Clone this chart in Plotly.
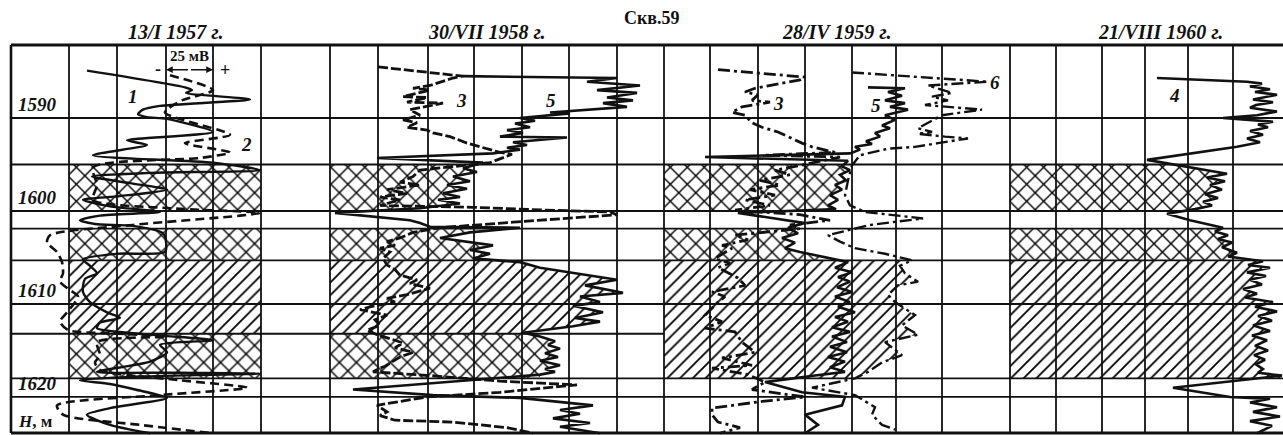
import plotly.graph_objects as go

INK = "#111111"
SERIF = "Liberation Serif, Times New Roman, serif"

# ---------------------------------------------------------------- strip grid
col_edges = [11, 69, 117, 166, 213, 261, 330, 378, 428, 474, 522, 569, 617,
             664, 710, 758, 805, 852, 896, 942, 1010, 1056, 1102, 1145, 1188, 1233]
strip_left, strip_right = 11, 1283
depth_top, depth_bottom = 1582.15, 1623.87
row_depths = [1590, 1595, 1600, 1601.9, 1605.3, 1610, 1618, 1620]
short_row_depth, short_row_end = 1613.2, 664

depth_ticks = [1590, 1600, 1610, 1620]
depth_unit = "H, м"
well_name = "Скв.59"
panel_titles = ["13/I 1957 г.", "30/VII 1958 г.", "28/IV 1959 г.", "21/VIII 1960 г."]
panel_title_x = [175, 487, 836, 1160]

# ------------------------------------------------------------- log curves
# 13/I 1957: curve 1 (solid) and curve 2 (dashed)
p1_c1_x = [87, 185, 192, 186, 250, 160, 143, 138, 147, 167, 213, 127, 147, 93, 213, 260, 150, 92,
           130, 167, 120, 83, 110, 160, 100, 80, 95, 133, 163, 166, 165, 117, 83, 90, 97, 85, 83,
           90, 107, 120, 100, 97, 150, 213, 160, 167, 150, 97, 180, 260, 140, 80, 110, 135, 167,
           110, 87, 110, 150]
p1_c1_d = [1584.9, 1586.7, 1587.0, 1587.3, 1588.0, 1588.7, 1589.1, 1589.6, 1589.9, 1590.1, 1591.5,
           1592.4, 1592.9, 1594.0, 1594.8, 1595.6, 1595.9, 1596.3, 1597.0, 1597.7, 1598.4, 1598.8,
           1599.5, 1600.1, 1600.5, 1601.0, 1601.4, 1601.6, 1602.4, 1603.3, 1604.4, 1604.6, 1605.2,
           1605.9, 1606.7, 1607.3, 1608.7, 1609.8, 1610.9, 1611.5, 1612.0, 1612.6, 1613.3, 1613.9,
           1614.4, 1615.2, 1616.2, 1617.3, 1617.4, 1617.5, 1617.8, 1618.2, 1618.6, 1619.2, 1620.1,
           1621.2, 1621.9, 1623.0, 1623.9]
p1_c2_x = [170, 213, 182, 165, 230, 185, 230, 200, 93, 97, 93, 170, 260, 240, 133, 50, 47, 57, 62,
           63, 60, 70, 78, 67, 60, 68, 120, 167, 97, 100, 95, 100, 180, 247, 160, 57, 63, 140, 213]
p1_c2_d = [1585.4, 1587.0, 1588.1, 1589.4, 1591.8, 1592.7, 1593.7, 1594.3, 1595.3, 1597.2, 1598.8,
           1599.7, 1600.2, 1600.5, 1601.5, 1602.6, 1603.4, 1604.4, 1605.5, 1606.7, 1607.6, 1608.5,
           1609.2, 1610.9, 1611.9, 1612.8, 1613.2, 1613.5, 1614.1, 1615.5, 1616.3, 1617.1, 1618.2,
           1619.0, 1619.8, 1620.9, 1621.9, 1623.0, 1623.9]

# 30/VII 1958: curve 3 (dashed) and curve 5 (solid)
p2_c3_x = [378, 463, 453, 430, 413, 430, 403, 427, 407, 443, 410, 420, 403, 417, 407, 427, 433, 450,
           467, 480, 500, 512, 490, 420, 413, 400, 420, 387, 407, 380, 400, 380, 473, 545, 610, 617,
           560, 513, 440, 413, 400, 387, 395, 380, 390, 383, 387, 395, 400, 417, 410, 430, 407, 387,
           395, 370, 360, 387, 375, 380, 367, 377, 395, 403, 395, 413, 400, 393, 385, 380, 373, 430,
           500, 577, 500, 427, 377, 387, 380, 395, 453, 507, 533]
p2_c3_d = [1584.5, 1585.5, 1585.7, 1586.5, 1586.8, 1587.0, 1587.7, 1587.8, 1588.3, 1588.4, 1589.1,
           1589.7, 1590.2, 1590.5, 1591.0, 1591.3, 1591.6, 1592.0, 1592.7, 1593.1, 1593.7, 1593.9,
           1594.8, 1595.6, 1596.3, 1596.9, 1597.2, 1597.7, 1598.1, 1598.5, 1598.8, 1599.4, 1599.6,
           1599.9, 1600.1, 1600.4, 1600.8, 1601.2, 1601.8, 1602.3, 1602.9, 1603.3, 1603.7, 1604.0,
           1604.4, 1605.1, 1605.8, 1606.3, 1606.9, 1607.4, 1607.8, 1608.3, 1609.0, 1609.4, 1609.8,
           1610.3, 1610.6, 1611.2, 1611.7, 1612.3, 1612.8, 1613.3, 1613.9, 1614.2, 1614.7, 1615.2,
           1615.7, 1616.2, 1616.7, 1616.9, 1617.3, 1617.7, 1618.3, 1618.7, 1619.5, 1620.0, 1620.9,
           1621.6, 1622.0, 1622.5, 1622.7, 1623.3, 1623.9]
p2_c5_x = [463, 617, 587, 640, 597, 637, 607, 633, 603, 627, 550, 570, 520, 535, 515, 530, 507, 523,
           500, 567, 513, 527, 507, 520, 493, 377, 483, 463, 477, 453, 470, 447, 467, 443, 460, 438,
           460, 420, 335, 353, 410, 420, 430, 520, 470, 440, 493, 470, 490, 473, 520, 540, 617, 585,
           623, 580, 600, 573, 603, 575, 600, 573, 523, 540, 555, 548, 560, 545, 558, 540, 560, 545,
           555, 540, 353, 433, 520, 593, 560, 580, 553, 590, 560, 600]
p2_c5_d = [1585.5, 1585.7, 1586.1, 1586.5, 1587.0, 1587.3, 1587.8, 1588.1, 1588.4, 1588.8, 1589.4,
           1589.5, 1590.0, 1590.3, 1590.6, 1591.0, 1591.3, 1591.6, 1592.0, 1592.1, 1592.6, 1592.9,
           1593.2, 1593.4, 1593.8, 1594.3, 1594.8, 1595.4, 1595.8, 1596.3, 1596.8, 1597.2, 1597.6,
           1598.1, 1598.5, 1598.8, 1599.2, 1599.7, 1600.2, 1600.4, 1601.0, 1601.3, 1601.7, 1601.8,
           1602.3, 1602.9, 1603.7, 1604.2, 1604.6, 1605.1, 1605.5, 1606.1, 1607.4, 1608.0, 1608.8,
           1609.2, 1609.8, 1610.2, 1610.9, 1611.5, 1611.9, 1612.4, 1613.1, 1613.5, 1614.0, 1614.4,
           1614.8, 1615.3, 1615.7, 1616.1, 1616.6, 1617.0, 1617.3, 1617.6, 1619.2, 1619.8, 1620.1,
           1620.9, 1621.4, 1621.8, 1622.3, 1622.8, 1623.2, 1623.9]

# 28/IV 1959: curve 3 (dash-dot), curve 5 (solid), curve 6 (dash-dot)
p3_c3_x = [718, 805, 800, 755, 745, 758, 752, 770, 742, 732, 745, 752, 762, 778, 788, 802, 812, 835,
           765, 840, 800, 775, 790, 760, 780, 750, 775, 745, 770, 735, 800, 830, 790, 800, 735, 748,
           722, 732, 715, 730, 718, 738, 745, 712, 725, 718, 705, 722, 705, 735, 742, 755, 722, 752,
           712, 748, 765, 752, 805, 760, 712, 712, 718, 740, 720]
p3_c3_d = [1584.8, 1585.6, 1585.9, 1586.8, 1587.2, 1587.5, 1588.1, 1588.3, 1588.8, 1589.4, 1589.7,
           1590.5, 1591.0, 1591.5, 1592.0, 1592.7, 1593.1, 1593.7, 1594.0, 1594.2, 1595.1, 1595.6,
           1596.1, 1596.7, 1597.2, 1597.7, 1598.3, 1598.8, 1599.4, 1599.9, 1600.4, 1601.0, 1601.5,
           1601.9, 1602.6, 1603.1, 1603.7, 1604.0, 1605.1, 1605.6, 1606.1, 1607.2, 1608.0, 1608.7,
           1609.2, 1609.8, 1611.2, 1611.9, 1612.6, 1613.0, 1614.1, 1615.2, 1615.8, 1616.6, 1616.9,
           1617.6, 1618.4, 1619.2, 1620.0, 1620.5, 1621.2, 1621.9, 1622.7, 1623.3, 1623.9]
p3_c5_x = [868, 905, 888, 902, 885, 905, 890, 908, 885, 895, 882, 890, 875, 880, 866, 872, 855, 860,
           850, 705, 848, 842, 850, 840, 846, 835, 842, 830, 838, 828, 836, 738, 805, 788, 798, 782,
           795, 785, 800, 822, 848, 835, 852, 838, 850, 837, 852, 835, 850, 838, 855, 835, 848, 832,
           850, 832, 847, 830, 847, 828, 845, 830, 845, 815, 765, 802, 845, 842, 805, 818, 805]
p3_c5_d = [1586.7, 1586.8, 1587.2, 1587.6, 1588.1, 1588.4, 1588.8, 1589.1, 1589.7, 1590.2, 1590.8,
           1591.1, 1591.6, 1592.0, 1592.5, 1592.8, 1593.1, 1593.4, 1593.8, 1594.2, 1594.6, 1595.2,
           1595.6, 1596.1, 1596.7, 1597.2, 1597.7, 1598.3, 1598.8, 1599.4, 1599.8, 1600.2, 1601.3,
           1601.8, 1602.4, 1602.9, 1603.4, 1604.0, 1604.4, 1604.9, 1605.5, 1606.1, 1606.6, 1607.1,
           1607.6, 1608.2, 1608.7, 1609.2, 1609.8, 1610.3, 1610.9, 1611.4, 1611.9, 1612.5, 1613.0,
           1613.5, 1614.1, 1614.6, 1615.2, 1615.7, 1616.2, 1616.8, 1617.3, 1617.7, 1618.4, 1619.5,
           1620.0, 1620.9, 1621.9, 1623.0, 1623.9]
p3_c6_x = [852, 988, 928, 952, 932, 948, 925, 982, 942, 918, 932, 918, 945, 968, 938, 915, 888, 860,
           852, 848, 845, 850, 865, 923, 870, 828, 840, 855, 885, 912, 900, 905, 918, 898, 888, 895,
           915, 902, 918, 885, 902, 882, 868, 855, 812, 855, 875, 872, 882, 895]
p3_c6_d = [1585.1, 1586.1, 1586.5, 1587.3, 1587.7, 1588.1, 1588.6, 1589.1, 1589.7, 1591.1, 1591.5,
           1591.7, 1592.0, 1592.2, 1592.7, 1593.1, 1593.3, 1594.0, 1595.1, 1596.7, 1598.3, 1599.4,
           1600.1, 1600.8, 1601.5, 1602.6, 1603.3, 1604.0, 1604.6, 1605.3, 1605.9, 1606.7, 1607.6,
           1608.0, 1609.0, 1609.8, 1611.2, 1612.3, 1613.3, 1614.1, 1615.5, 1616.3, 1617.3, 1618.0,
           1619.0, 1619.8, 1621.1, 1621.9, 1623.0, 1623.5]

# 21/VIII 1960: curve 4 (solid)
p4_c4_x = [1157, 1247, 1262, 1250, 1270, 1255, 1277, 1253, 1273, 1256, 1250, 1277, 1257, 1223, 1273,
           1258, 1268, 1250, 1263, 1247, 1260, 1237, 1147, 1190, 1227, 1207, 1225, 1210, 1222, 1205,
           1218, 1203, 1212, 1195, 1167, 1190, 1223, 1215, 1228, 1218, 1232, 1222, 1237, 1228, 1263,
           1248, 1270, 1247, 1266, 1250, 1262, 1243, 1257, 1245, 1273, 1255, 1277, 1258, 1272, 1253,
           1270, 1252, 1267, 1255, 1268, 1254, 1265, 1256, 1263, 1258, 1282, 1173, 1230, 1270, 1250,
           1277, 1253, 1280, 1250, 1272, 1257]
p4_c4_d = [1585.7, 1586.1, 1586.3, 1586.6, 1586.9, 1587.2, 1587.5, 1588.0, 1588.3, 1588.6, 1588.9,
           1589.3, 1589.7, 1590.0, 1590.4, 1590.7, 1591.0, 1591.4, 1591.8, 1592.2, 1592.6, 1593.1,
           1594.5, 1595.3, 1596.0, 1596.4, 1596.8, 1597.2, 1597.7, 1598.2, 1598.6, 1599.0, 1599.4,
           1599.8, 1600.3, 1601.0, 1601.8, 1602.2, 1602.6, 1603.0, 1603.4, 1603.9, 1604.5, 1604.9,
           1605.4, 1605.8, 1606.1, 1606.6, 1607.0, 1607.4, 1607.9, 1608.4, 1608.9, 1609.3, 1609.8,
           1610.3, 1610.8, 1611.3, 1611.8, 1612.3, 1612.9, 1613.4, 1613.9, 1614.5, 1615.0, 1615.5,
           1616.0, 1616.5, 1617.0, 1617.4, 1617.7, 1619.0, 1620.0, 1620.2, 1620.6, 1621.1, 1621.6,
           1622.1, 1622.6, 1623.1, 1623.9]

# ------------------------------------------------------------ reservoir beds
# (pattern, top depth, bottom depth); "x" = cross-hatched, "/" = hatched
beds_a = [("x", 1595, 1600), ("x", 1601.9, 1605.3), ("/", 1605.3, 1613.2), ("x", 1613.2, 1618)]
beds_b = [("x", 1595, 1600), ("x", 1601.9, 1605.3), ("/", 1605.3, 1618)]
p1_bed_edges = (69, 261)

fig = go.Figure()


def bed_polygon(left, top, bottom, cx=None, cd=None, right=None):
    if cx is None:
        return [left, right, right, left, left], [top, top, bottom, bottom, top]
    pts = [(x, d) for x, d in zip(cx, cd) if top - 1e-6 <= d <= bottom + 1e-6]
    xs = [left, pts[0][0]] + [p[0] for p in pts] + [pts[-1][0], left, left]
    ds = [top, top] + [p[1] for p in pts] + [bottom, bottom, top]
    return xs, ds


def add_bed(pattern, xs, ds):
    fig.add_trace(go.Scatter(
        x=xs, y=ds, mode="lines", fill="toself", fillcolor="white",
        line=dict(width=0), hoverinfo="skip", showlegend=False,
        fillpattern=dict(shape=pattern, size=12 if pattern == "x" else 9,
                         solidity=0.22 if pattern == "x" else 0.2,
                         fgcolor="#000000", bgcolor="white", fillmode="replace"),
    ))


for pat, top, bot in beds_a:
    add_bed(pat, *bed_polygon(p1_bed_edges[0], top, bot, right=p1_bed_edges[1]))
for pat, top, bot in beds_a:
    add_bed(pat, *bed_polygon(col_edges[6], top, bot, p2_c5_x, p2_c5_d))
for pat, top, bot in beds_b:
    cx, cd = (p3_c6_x, p3_c6_d) if pat == "/" else (p3_c5_x, p3_c5_d)
    add_bed(pat, *bed_polygon(col_edges[13], top, bot, cx, cd))
for pat, top, bot in beds_b:
    add_bed(pat, *bed_polygon(col_edges[20], top, bot, p4_c4_x, p4_c4_d))


def add_curve(x, d, dash="solid", width=2.6, smooth=False):
    line = dict(color=INK, width=width, dash=dash)
    if smooth:
        line.update(shape="spline", smoothing=0.7)
    fig.add_trace(go.Scatter(x=x, y=d, mode="lines", line=line,
                             hoverinfo="skip", showlegend=False))


DASHDOT = "12px,4px,3px,4px"
add_curve(p1_c1_x, p1_c1_d, smooth=True, width=2.4)
add_curve(p1_c2_x, p1_c2_d, dash="9px,5px", smooth=True, width=2.6)
add_curve(p2_c5_x, p2_c5_d, width=2.6)
add_curve(p2_c3_x, p2_c3_d, dash="10px,3px", width=2.8)
add_curve(p3_c5_x, p3_c5_d, width=2.6)
add_curve(p3_c3_x, p3_c3_d, dash=DASHDOT, width=2.8)
add_curve(p3_c6_x, p3_c6_d, dash=DASHDOT, width=2.4)
add_curve(p4_c4_x, p4_c4_d, width=2.6)

# grid lines of the strip
shapes = []
for i, x in enumerate(col_edges):
    shapes.append(dict(type="line", xref="x", yref="y", x0=x, x1=x, y0=depth_top, y1=depth_bottom,
                       line=dict(color=INK, width=2.6 if i == 0 else 1.8)))
for d in row_depths:
    shapes.append(dict(type="line", xref="x", yref="y", x0=strip_left, x1=strip_right, y0=d, y1=d,
                       line=dict(color=INK, width=1.8)))
shapes.append(dict(type="line", xref="x", yref="y", x0=strip_left, x1=short_row_end,
                   y0=short_row_depth, y1=short_row_depth, line=dict(color=INK, width=1.8)))
for d in (depth_top, depth_bottom):
    shapes.append(dict(type="line", xref="x", yref="y", x0=strip_left, x1=strip_right, y0=d, y1=d,
                       line=dict(color=INK, width=3)))

ann = []
title_font = dict(family=SERIF, size=20, color=INK)
ann.append(dict(x=652, y=1.056, xref="x", yref="paper", yanchor="middle",
                text="<b>" + well_name + "</b>", showarrow=False,
                font=dict(family=SERIF, size=18, color=INK)))
for t, x in zip(panel_titles, panel_title_x):
    ann.append(dict(x=x, y=1.021, xref="x", yref="paper", yanchor="middle",
                    text="<b><i>" + t + "</i></b>", showarrow=False, font=title_font))
for d in depth_ticks:
    ann.append(dict(x=16, y=d - 1.45, xref="x", yref="y", xanchor="left",
                    text="<b><i>%d</i></b>" % d, showarrow=False,
                    font=dict(family=SERIF, size=19, color=INK)))
ann.append(dict(x=16, y=1622.6, xref="x", yref="y", xanchor="left",
                text="<b><i>H</i>, м</b>", showarrow=False,
                font=dict(family=SERIF, size=17, color=INK)))

# curve numbers
curve_labels = [("1", 133, 1587.7), ("2", 246, 1592.9), ("3", 461, 1588.1), ("5", 551, 1588.1),
                ("3", 778, 1588.4), ("5", 876, 1588.6), ("6", 995, 1586.2), ("4", 1174, 1587.6)]
for txt, x, d in curve_labels:
    ann.append(dict(x=x, y=d, xref="x", yref="y", text="<b><i>" + txt + "</i></b>",
                    showarrow=False, font=dict(family=SERIF, size=19, color=INK)))

# 25 mV scale bar
scale_left, scale_right, scale_depth = 166, 213, 1584.8
ann.append(dict(x=(scale_left + scale_right) / 2, y=1583.35, xref="x", yref="y",
                text="<b>25 мВ</b>", showarrow=False,
                font=dict(family=SERIF, size=15, color=INK)))
for end in (scale_left, scale_right):
    ann.append(dict(x=end, y=scale_depth, ax=(scale_left + scale_right) / 2, ay=scale_depth,
                    xref="x", yref="y", axref="x", ayref="y", text="", showarrow=True,
                    arrowhead=2, arrowsize=0.9, arrowwidth=1.5, arrowcolor=INK))
ann.append(dict(x=scale_left - 8, y=scale_depth - 0.1, xref="x", yref="y", text="<b>-</b>",
                showarrow=False, font=dict(family=SERIF, size=18, color=INK)))
ann.append(dict(x=scale_right + 12, y=scale_depth, xref="x", yref="y", text="<b>+</b>",
                showarrow=False, font=dict(family=SERIF, size=18, color=INK)))

fig.update_layout(
    width=1283, height=435,
    margin=dict(l=0, r=0, t=40, b=0),
    paper_bgcolor="white", plot_bgcolor="white",
    xaxis=dict(range=[0, 1283], visible=False, fixedrange=True),
    yaxis=dict(range=[1624.09, 1581.61], visible=False, fixedrange=True),
    shapes=shapes, annotations=ann, showlegend=False,
)

fig.write_html("out.html")
